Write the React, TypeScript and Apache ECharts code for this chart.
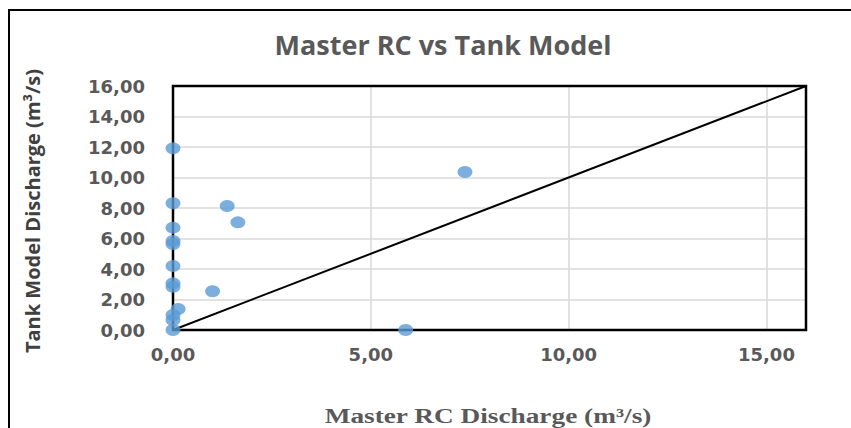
import React, { useEffect, useRef } from "react";
import * as echarts from "echarts";

const masterRC = [0, 0, 1.37, 1.64, 0, 0, 0, 0, 0, 0, 1.0, 0.13, 0, 0, 0, 7.38, 5.88];
const tankModel = [11.91, 8.31, 8.13, 7.06, 6.71, 5.84, 5.64, 4.2, 3.06, 2.84, 2.54, 1.38, 0.98, 0.66, 0, 10.36, 0];
const lineX = [0, 16];
const lineY = [0, 16];

const title = "Master RC vs Tank Model";
const xName = "Master RC Discharge (m³/s)";
const yName = "Tank Model Discharge (m³/s)";

const fmt = (v: number) => v.toFixed(2).replace(".", ",");

export default function App() {
  const ref = useRef<HTMLDivElement>(null);
  useEffect(() => {
    const chart = echarts.init(ref.current!, null, { renderer: "svg" });
    const grid = { left: 173, top: 86, width: 633, height: 244 };
    const tickFont = {
      fontFamily: "DejaVu Sans",
      fontWeight: "bold",
      fontSize: 18,
      color: "#595959",
    };
    chart.setOption({
      animation: false,
      backgroundColor: "#fff",
      title: {
        text: title,
        left: 438,
        top: 26,
        textAlign: "center",
        textStyle: { fontFamily: "Open Sans", fontWeight: "bold", fontSize: 27, color: "#595959" },
      },
      grid: { ...grid, containLabel: false },
      xAxis: {
        type: "value",
        min: 0,
        max: 16,
        interval: 5,
        axisLine: { show: false },
        axisTick: { show: false },
        splitLine: { lineStyle: { color: "#d9d9d9", width: 1.5 } },
        axisLabel: {
          margin: 15,
          showMaxLabel: false,
          formatter: (v: number) => (v === 16 ? "" : fmt(v)),
          ...tickFont,
        },
      },
      yAxis: {
        type: "value",
        min: 0,
        max: 16,
        interval: 2,
        axisLine: { show: false },
        axisTick: { show: false },
        splitLine: { lineStyle: { color: "#d9d9d9", width: 1.5 } },
        axisLabel: {
          margin: 28,
          formatter: (v: number) => fmt(v),
          ...tickFont,
        },
      },
      series: [
        {
          type: "line",
          data: lineX.map((x, i) => [x, lineY[i]]),
          showSymbol: false,
          symbol: "none",
          lineStyle: { color: "#000", width: 2 },
          z: 3,
        },
        {
          type: "scatter",
          data: masterRC.map((x, i) => [x, tankModel[i]]),
          symbol: "circle",
          symbolSize: [15, 12],
          itemStyle: { color: "#5B9BD5" },
          z: 5,
        },
      ],
      graphic: [
        {
          type: "rect",
          shape: { x: grid.left, y: grid.top, width: grid.width, height: grid.height },
          style: { fill: "none", stroke: "#000", lineWidth: 2.5 },
          z: 4,
          silent: true,
        },
        {
          type: "rect",
          shape: { x: 9, y: 10, width: 900, height: 500 },
          style: { fill: "none", stroke: "#000", lineWidth: 2 },
          z: 10,
          silent: true,
        },
        {
          type: "text",
          x: 488,
          y: 416,
          scaleX: 1.3,
          style: {
            text: xName,
            fontFamily: "Liberation Serif",
            fontWeight: "bold",
            fontSize: 21,
            fill: "#595959",
            align: "center",
            verticalAlign: "middle",
          },
        },
        {
          type: "text",
          x: 32,
          y: 211,
          rotation: Math.PI / 2,
          style: {
            text: yName,
            fontFamily: "Open Sans",
            fontWeight: "bold",
            fontSize: 20,
            fill: "#404040",
            align: "center",
            verticalAlign: "middle",
          },
        },
      ],
    });
    return () => chart.dispose();
  }, []);
  return <div ref={ref} style={{ width: 851, height: 428, position: "absolute", left: 0, top: 0 }} />;
}
